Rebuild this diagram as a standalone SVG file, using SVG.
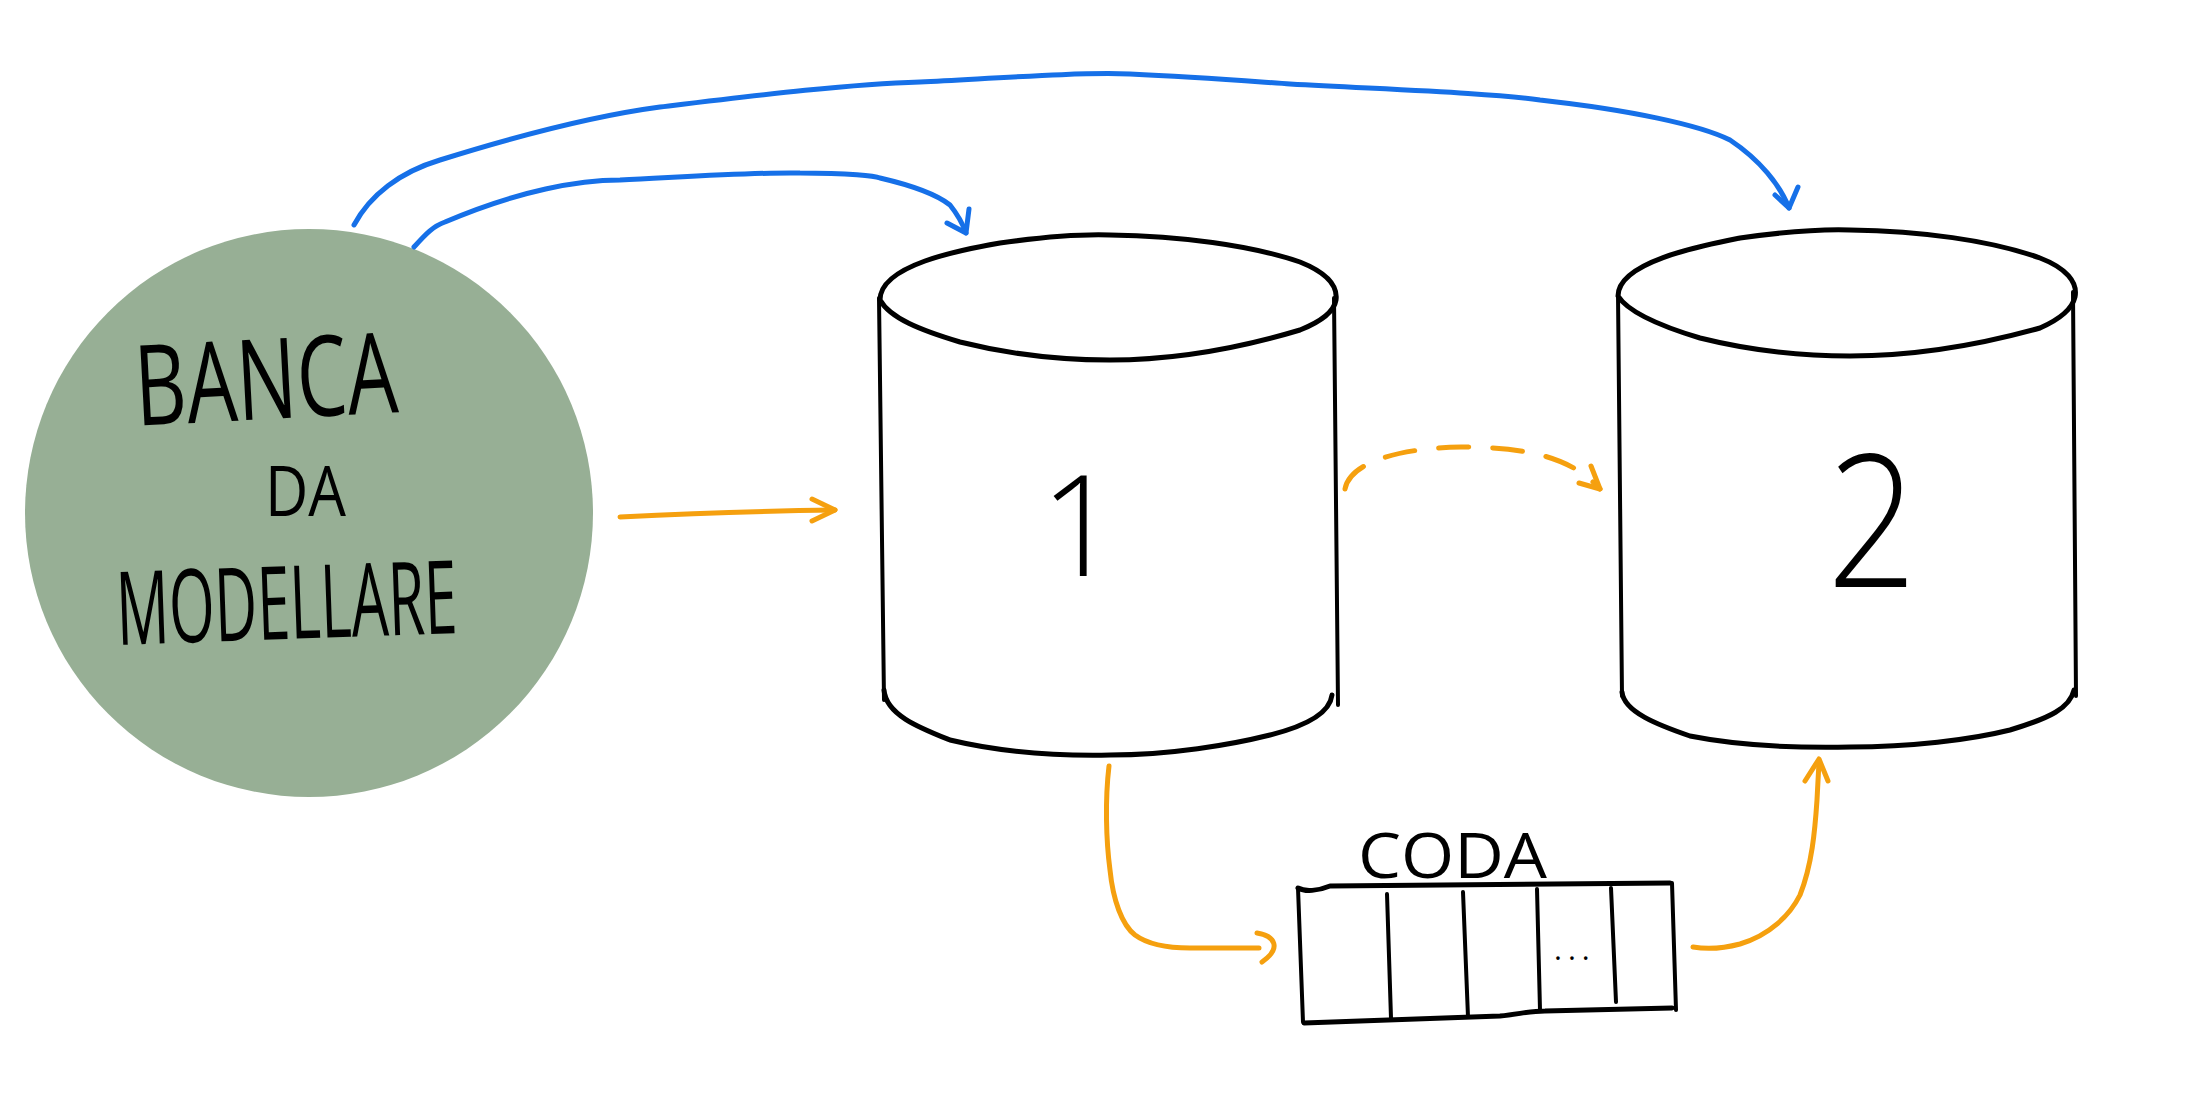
<svg xmlns="http://www.w3.org/2000/svg" width="2203" height="1103" viewBox="0 0 2203 1103">
<style>
.hand{font-family:"Open Sans","Lato","Liberation Sans",sans-serif;font-weight:400;fill:#000}
.light{font-weight:300}
.ink{fill:none;stroke:#000;stroke-width:5;stroke-linecap:round;stroke-linejoin:round}
.thin{stroke-width:4}
.blue{fill:none;stroke:#1670e8;stroke-width:5;stroke-linecap:round;stroke-linejoin:round}
.orange{fill:none;stroke:#f5a00f;stroke-width:5;stroke-linecap:round;stroke-linejoin:round}
.dash{stroke-dasharray:30 24}
</style>
<rect width="2203" height="1103" fill="#fff"/>
<g id="banca">
<circle cx="309" cy="513" r="284" fill="#97af95"/>
<text class="hand" x="136" y="419" font-size="112" textLength="263" lengthAdjust="spacingAndGlyphs" transform="rotate(-3 267 410)">BANCA</text>
<text class="hand" x="265" y="516" font-size="70" textLength="81" lengthAdjust="spacingAndGlyphs">DA</text>
<text class="hand" x="117" y="639" font-size="102" textLength="341" lengthAdjust="spacingAndGlyphs" transform="rotate(-2 287 630)">MODELLARE</text>
</g>
<g id="db1">
<path class="ink" d="M880,300 C880,265 960,250 1000,243 C1050,236 1080,234 1110,235 C1180,236 1250,245 1300,262 C1325,272 1338,285 1336,300 C1334,312 1320,322 1300,330 C1250,345 1180,360 1110,360 C1050,360 1000,352 960,342 C920,330 890,318 880,300 Z"/>
<path class="ink thin" d="M879,298 L884,700"/>
<path class="ink thin" d="M1334,298 L1338,705"/>
<path class="ink" d="M884,690 C886,715 920,728 950,740 C1000,752 1060,756 1110,755 C1170,755 1230,745 1270,735 C1310,725 1330,712 1332,695"/>
<text class="hand light" x="1080" y="576" font-size="140" text-anchor="middle">1</text>
</g>
<g id="db2">
<path class="ink" d="M1618,296 C1618,262 1700,246 1740,238 C1790,231 1820,229 1850,230 C1920,231 1990,240 2040,258 C2066,268 2078,282 2075,297 C2072,310 2058,320 2040,328 C1990,342 1920,356 1850,356 C1790,356 1740,348 1700,338 C1660,326 1628,312 1618,296 Z"/>
<path class="ink thin" d="M1618,294 L1622,696"/>
<path class="ink thin" d="M2073,292 L2076,696"/>
<path class="ink" d="M1622,692 C1624,712 1658,725 1690,736 C1740,746 1800,748 1850,747 C1910,747 1970,740 2010,730 C2050,718 2070,708 2074,690"/>
<text class="hand light" x="1827" y="587" font-size="184" textLength="90" lengthAdjust="spacingAndGlyphs">2</text>
</g>
<g id="coda">
<text class="hand" x="1358" y="878" font-size="62" textLength="189" lengthAdjust="spacingAndGlyphs">CODA</text>
<path class="ink" d="M1298,888 C1305,892 1318,891 1330,886 L1670,883"/>
<path class="ink" d="M1304,1023 L1500,1016 C1520,1014 1530,1011 1545,1011 L1672,1008"/>
<path class="ink thin" d="M1298,888 L1303,1022"/>
<path class="ink thin" d="M1672,883 L1676,1010"/>
<path class="ink thin" d="M1387,894 L1391,1018"/>
<path class="ink thin" d="M1463,892 L1468,1017"/>
<path class="ink thin" d="M1537,889 L1540,1010"/>
<path class="ink thin" d="M1611,888 L1616,1002"/>
<text class="hand" x="1554" y="960" font-size="30" letter-spacing="6">...</text>
</g>
<g id="connectors">
<path class="blue" d="M354,225 C370,195 400,172 440,160 C520,135 600,115 660,107 C760,95 850,84 920,82 C1000,78 1080,72 1130,74 C1200,77 1260,82 1290,84 C1400,90 1490,93 1540,100 C1630,110 1700,125 1730,140 C1760,160 1780,185 1789,208"/>
<path class="blue" d="M1775,195 L1789,208 L1798,187"/>
<path class="blue" d="M414,247 C425,235 433,226 445,222 C520,190 580,180 620,180 C700,176 760,172 800,173 C850,173 875,176 880,178 C910,185 935,193 950,205 C958,215 962,222 966,233"/>
<path class="blue" d="M947,223 L966,233 L969,209"/>
<path class="orange" d="M620,517 C700,513 760,511 835,510"/>
<path class="orange" d="M812,499 L835,510 L812,521"/>
<path class="orange dash" d="M1345,489 C1350,462 1400,448 1461,447 C1520,447 1570,455 1600,489"/>
<path class="orange" d="M1591,466 L1600,489 L1579,483"/>
<path class="orange" d="M1109,766 C1105,800 1106,840 1110,870 C1113,900 1122,925 1135,935 C1150,946 1170,948 1190,948 L1259,948"/>
<path class="orange" d="M1257,933 C1275,936 1282,948 1262,962"/>
<path class="orange" d="M1693,947 C1710,950 1725,948 1740,944 C1770,935 1790,915 1800,895 C1812,865 1815,830 1817,800 L1819,762"/>
<path class="orange" d="M1805,781 L1819,759 L1828,781"/>
</g>
</svg>
